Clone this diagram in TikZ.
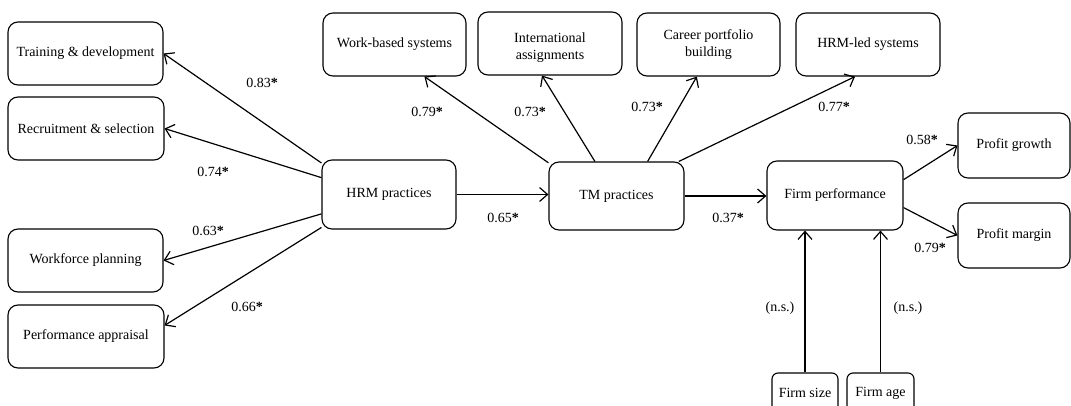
\documentclass[tikz,border=0pt]{standalone}
\usepackage{fontspec}
\setmainfont{Liberation Serif}
\usetikzlibrary{arrows.meta,calc}
\newcommand{\st}{\textbf{*}}
\begin{document}
\begin{tikzpicture}[x=1pt,y=-1pt,
  box/.style={draw, rounded corners=10pt, line width=1.1pt, inner sep=0pt, align=center,
     font=\fontsize{14}{16.5}\selectfont},
  arr/.style={line width=1.2pt, -{Straight Barb[length=8pt,width=14pt,line width=1.2pt]}},
  lab/.style={font=\fontsize{14}{16}\selectfont, inner sep=0pt}]
\useasboundingbox (0,0) rectangle (1071,406);
\clip (0,0) rectangle (1071,406);
% nodes
\node[box, minimum width=155pt, minimum height=63pt] (td) at (85.5,53.5) {Training \& development};
\node[box, minimum width=156pt, minimum height=63pt] (rs) at (86,128.5) {Recruitment \& selection};
\node[box, minimum width=155pt, minimum height=63pt] (wp) at (85.5,260.5) {Workforce planning};
\node[box, minimum width=156pt, minimum height=63pt] (pa) at (86,336.5) {Performance appraisal};
\node[box, minimum width=134pt, minimum height=69pt] (hrm) at (389,194.5) {HRM practices};
\node[box, minimum width=135pt, minimum height=68pt] (tm) at (616.5,196) {TM practices};
\node[box, minimum width=143pt, minimum height=63pt] (wb) at (394.5,44.5) {Work-based systems};
\node[box, minimum width=144pt, minimum height=63pt] (intl) at (550,43.5) {};
\node[lab, align=center, font=\fontsize{14}{17}\selectfont] (intltext) at (550,47.5) {International\\assignments};
\node[box, minimum width=143pt, minimum height=63pt] (career) at (708.5,44.5) {Career portfolio\\building};
\node[box, minimum width=144pt, minimum height=63pt] (hrmled) at (868,44.5) {HRM-led systems};
\node[box, minimum width=136pt, minimum height=69pt] (fp) at (835,195.5) {Firm performance};
\node[box, minimum width=112pt, minimum height=65pt] (pg) at (1014,145.5) {Profit growth};
\node[box, minimum width=112pt, minimum height=65pt] (pm) at (1014,235.5) {Profit margin};
\node[box, rounded corners=6pt, minimum width=66pt, minimum height=40pt] (fs) at (805,393) {Firm size};
\node[box, rounded corners=6pt, minimum width=67pt, minimum height=40pt] (fa) at (880.5,393) {Firm age};
% connectors
\draw[arr] (hrm.155) -- (td.east);
\draw[arr] (hrm.166) -- (rs.east);
\draw[arr] (hrm.196) -- (wp.east);
\draw[arr] (hrm.206) -- (pa.8);
\draw[arr] (hrm.east) -- (hrm.east -| tm.west);
\draw[arr] (tm.154) -- (wb.-47);
\draw[arr] (tm.122) -- (intl.-104);
\draw[arr] (tm.48) -- (career.-110);
\draw[arr] (tm.29) -- (hrmled.-112);
\draw[arr] (tm.east) -- (tm.east -| fp.west);
\draw[arr] (fp.13) -- (pg.west);
\draw[arr] (fp.-10) -- (pm.west);
\draw[arr] (fs.north) -- (fs.north |- fp.south);
\draw[arr] (fa.north) -- (fa.north |- fp.south);
% labels
\node[lab] (l1) at (262,83) {0.83\st};
\node[lab] (l2) at (213,172) {0.74\st};
\node[lab] (l3) at (208,231) {0.63\st};
\node[lab] (l4) at (247,307) {0.66\st};
\node[lab] (l5) at (503,218) {0.65\st};
\node[lab] (l6) at (427,112) {0.79\st};
\node[lab] (l7) at (530,112) {0.73\st};
\node[lab] (l8) at (647,107) {0.73\st};
\node[lab] (l9) at (834,107) {0.77\st};
\node[lab] (l10) at (728,218) {0.37\st};
\node[lab] (l11) at (922,140) {0.58\st};
\node[lab] (l12) at (930,248) {0.79\st};
\node[lab] (l13) at (780,308) {(n.s.)};
\node[lab] (l14) at (908,308) {(n.s.)};
\end{tikzpicture}
\end{document}
